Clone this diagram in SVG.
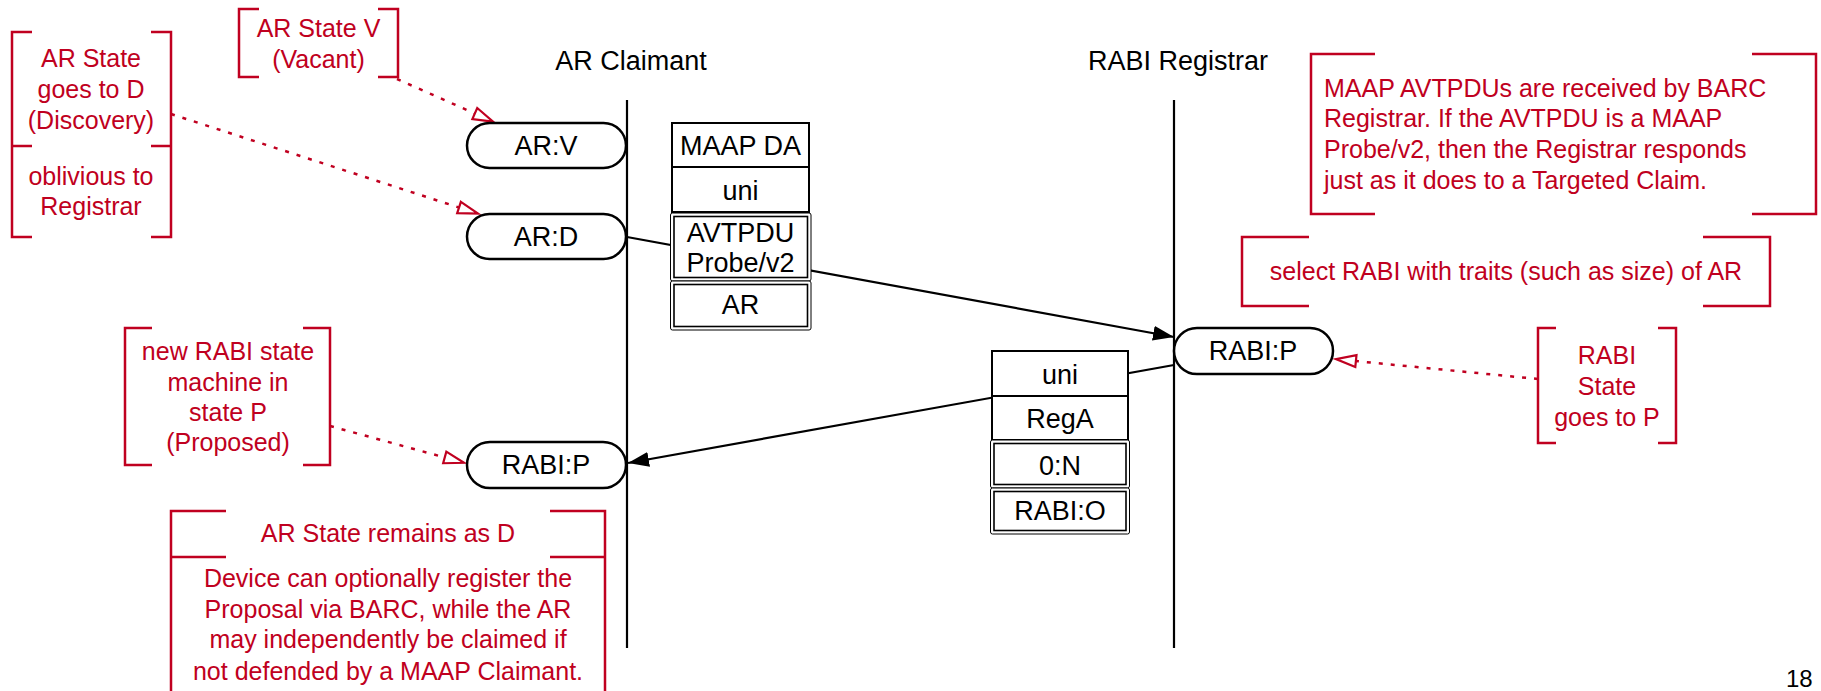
<svg xmlns="http://www.w3.org/2000/svg" width="1821" height="691" viewBox="0 0 1821 691">
<style>
text{font-family:"Liberation Sans",Arial,Helvetica,sans-serif}
.lbl{font-size:27px;fill:#000;text-anchor:middle}
.red{font-size:25px;fill:#C00020;text-anchor:middle}
.redl{font-size:25px;fill:#C00020;text-anchor:start}
.pill{fill:#fff;stroke:#000;stroke-width:2.5}
.cell{fill:#fff;stroke:#000;stroke-width:2}
.outer{fill:#fff;stroke:#000;stroke-width:1}
.inner{fill:none;stroke:#000;stroke-width:1.6}
.life{stroke:#000;stroke-width:2.2;fill:none}
.msg{stroke:#000;stroke-width:2.2;fill:none}
.brk{stroke:#C00020;stroke-width:2.5;fill:none}
.dot{stroke:#C00020;stroke-width:2.5;fill:none;stroke-dasharray:4 8}
</style>
<defs>
<marker id="fa" markerUnits="userSpaceOnUse" markerWidth="22" markerHeight="16" refX="21" refY="7.5" orient="auto">
<path d="M0,0 L21,7.5 L0,15 z" fill="#000"/>
</marker>
<marker id="ha" markerUnits="userSpaceOnUse" markerWidth="26" markerHeight="18" refX="23" refY="8" orient="auto">
<path d="M2,2 L22,8 L2,14 z" fill="#fff" stroke="#C00020" stroke-width="2.2"/>
</marker>
</defs>

<g id="lifelines">
<text class="lbl" x="631" y="70">AR Claimant</text>
<text class="lbl" x="1178" y="70">RABI Registrar</text>
<line class="life" x1="627" y1="100" x2="627" y2="648"/>
<line class="life" x1="1174" y1="100" x2="1174" y2="648"/>
</g>

<g id="connectors">
<line class="msg" x1="627" y1="237" x2="1174" y2="337" marker-end="url(#fa)"/>
<line class="msg" x1="1174" y1="365" x2="628" y2="463" marker-end="url(#fa)"/>
<line class="dot" x1="397" y1="79" x2="494" y2="122" marker-end="url(#ha)"/>
<line class="dot" x1="171" y1="114" x2="479" y2="214" marker-end="url(#ha)"/>
<line class="dot" x1="330" y1="426" x2="465" y2="463" marker-end="url(#ha)"/>
<line class="dot" x1="1538" y1="379" x2="1335" y2="359" marker-end="url(#ha)"/>
</g>

<g id="ar-v">
<rect class="pill" x="467" y="123" width="159" height="45" rx="22.5"/>
<text class="lbl" x="546" y="155">AR:V</text>
</g>
<g id="ar-d">
<rect class="pill" x="467" y="214" width="159" height="45" rx="22.5"/>
<text class="lbl" x="546" y="246">AR:D</text>
</g>
<g id="rabi-p-claimant">
<rect class="pill" x="467" y="442" width="159" height="46" rx="23"/>
<text class="lbl" x="546" y="474">RABI:P</text>
</g>
<g id="rabi-p-registrar">
<rect class="pill" x="1174" y="328" width="159" height="46" rx="23"/>
<text class="lbl" x="1253" y="360">RABI:P</text>
</g>

<g id="probe-frame">
<rect class="cell" x="672" y="123" width="137" height="44"/>
<text class="lbl" x="740.5" y="155">MAAP DA</text>
<rect class="cell" x="672" y="167" width="137" height="45"/>
<text class="lbl" x="740.5" y="200">uni</text>
<rect class="outer" x="670.5" y="213" width="140.5" height="68" rx="2"/>
<rect class="inner" x="674" y="216.5" width="133.5" height="61"/>
<text class="lbl" x="740.5" y="242">AVTPDU</text>
<text class="lbl" x="740.5" y="272">Probe/v2</text>
<rect class="outer" x="670.5" y="281" width="140.5" height="49" rx="2"/>
<rect class="inner" x="674" y="284.5" width="133.5" height="42"/>
<text class="lbl" x="740.5" y="314">AR</text>
</g>

<g id="reg-frame">
<rect class="cell" x="992" y="351" width="136" height="45"/>
<text class="lbl" x="1060" y="384">uni</text>
<rect class="cell" x="992" y="396" width="136" height="44"/>
<text class="lbl" x="1060" y="428">RegA</text>
<rect class="outer" x="990.5" y="440" width="139" height="48" rx="2"/>
<rect class="inner" x="994" y="443.5" width="132" height="41"/>
<text class="lbl" x="1060" y="475">0:N</text>
<rect class="outer" x="990.5" y="488" width="139" height="46" rx="2"/>
<rect class="inner" x="994" y="491.5" width="132" height="39"/>
<text class="lbl" x="1060" y="520">RABI:O</text>
</g>

<g id="note-ar-d">
<path class="brk" d="M32,32 H12 V237 H32 M151,32 H171 V237 H151 M12,146 H32 M151,146 H171"/>
<text class="red" x="91" y="67">AR State</text>
<text class="red" x="91" y="98">goes to D</text>
<text class="red" x="91" y="129">(Discovery)</text>
<text class="red" x="91" y="185">oblivious to</text>
<text class="red" x="91" y="215">Registrar</text>
</g>

<g id="note-ar-v">
<path class="brk" d="M259,9 H239 V77 H259 M378,9 H398 V77 H378"/>
<text class="red" x="318.5" y="37">AR State V</text>
<text class="red" x="318.5" y="68">(Vacant)</text>
</g>

<g id="note-registrar">
<path class="brk" d="M1375,54 H1311 V214 H1375 M1752,54 H1816 V214 H1752"/>
<text class="redl" x="1324" y="97">MAAP AVTPDUs are received by BARC</text>
<text class="redl" x="1324" y="127">Registrar. If the AVTPDU is a MAAP</text>
<text class="redl" x="1324" y="158">Probe/v2, then the Registrar responds</text>
<text class="redl" x="1324" y="189">just as it does to a Targeted Claim.</text>
</g>

<g id="note-select">
<path class="brk" d="M1309,237 H1242 V306 H1309 M1703,237 H1770 V306 H1703"/>
<text class="red" x="1506" y="280">select RABI with traits (such as size) of AR</text>
</g>

<g id="note-rabi-state">
<path class="brk" d="M1556,328 H1538 V443 H1556 M1658,328 H1676 V443 H1658"/>
<text class="red" x="1607" y="364">RABI</text>
<text class="red" x="1607" y="395">State</text>
<text class="red" x="1607" y="426">goes to P</text>
</g>

<g id="note-new-rabi">
<path class="brk" d="M152,328 H125 V465 H152 M303,328 H330 V465 H303"/>
<text class="red" x="228" y="360">new RABI state</text>
<text class="red" x="228" y="391">machine in</text>
<text class="red" x="228" y="421">state P</text>
<text class="red" x="228" y="451">(Proposed)</text>
</g>

<g id="note-ar-remains">
<path class="brk" d="M226,511 H171 V700 M550,511 H605 V700 M171,557 H226 M550,557 H605"/>
<text class="red" x="388" y="542">AR State remains as D</text>
<text class="red" x="388" y="587">Device can optionally register the</text>
<text class="red" x="388" y="618">Proposal via BARC, while the AR</text>
<text class="red" x="388" y="648">may independently be claimed if</text>
<text class="red" x="388" y="680">not defended by a MAAP Claimant.</text>
</g>

<text x="1786" y="687" style="font-size:24px;fill:#000">18</text>
</svg>
